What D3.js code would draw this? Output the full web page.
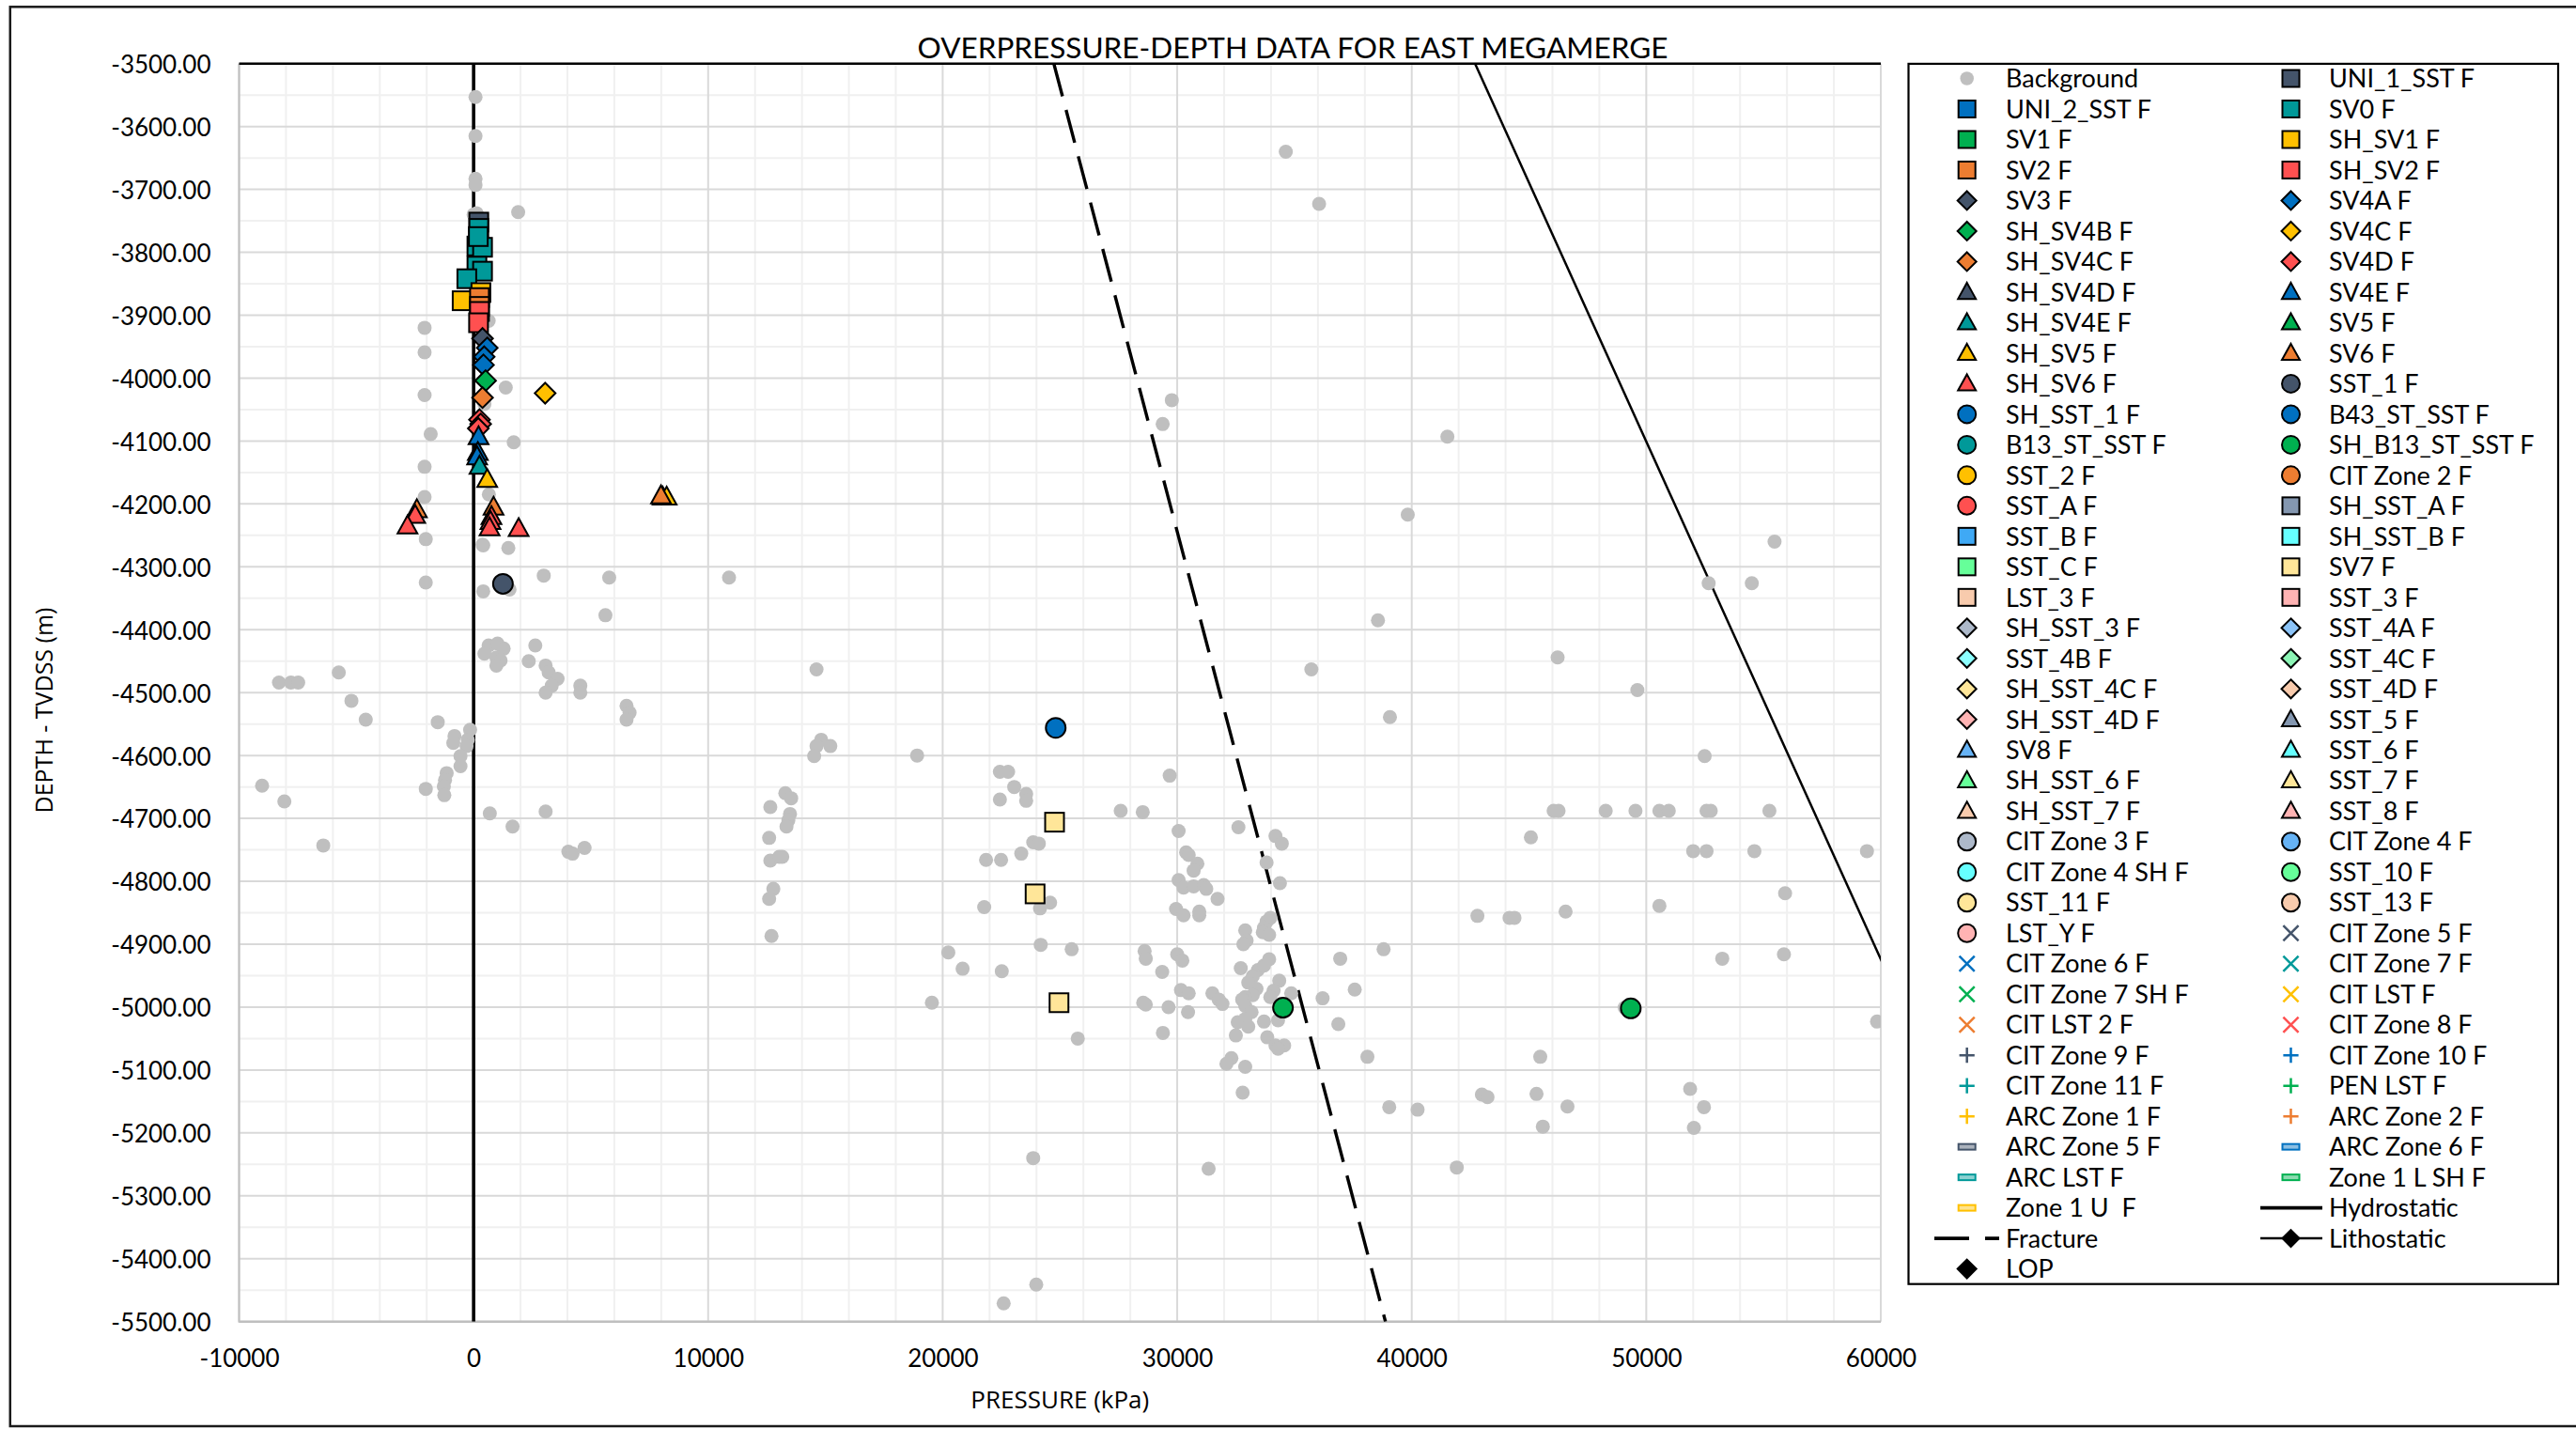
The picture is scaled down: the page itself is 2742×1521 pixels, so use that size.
<!DOCTYPE html>
<html>
<head>
<meta charset="utf-8">
<script src="https://cdn.jsdelivr.net/npm/d3@7"></script>
<style>
  html, body { margin: 0; padding: 0; background: #fff; }
  svg { display: block; }
  text { white-space: pre; }
</style>
</head>
<body>
<div id="chart"></div>
<script>
// ---------------- DATA ----------------
const chartTitle = "OVERPRESSURE-DEPTH DATA FOR EAST MEGAMERGE";
const xAxisTitle = "PRESSURE (kPa)";
const yAxisTitle = "DEPTH - TVDSS (m)";
const xTickValues = [-10000, 0, 10000, 20000, 30000, 40000, 50000, 60000];
const yTickValues = [-3500, -3600, -3700, -3800, -3900, -4000, -4100, -4200, -4300, -4400, -4500,
                     -4600, -4700, -4800, -4900, -5000, -5100, -5200, -5300, -5400, -5500];

// Background points [pressure kPa, depth m]
const background = [
  [80,-3553],[80,-3615],[80,-3683],[80,-3693],[130,-3738],[0,-3740],[1900,-3736],
  [-2090,-3920],[-2090,-3959],[-2090,-4027],[-1830,-4089],[1710,-4102],[1370,-4015],[460,-4041],[640,-3909],
  [650,-4185],[380,-4265],[-2090,-4141],[-2090,-4189],[-2040,-4256],[410,-4266],[1480,-4270],[-2040,-4325],
  [410,-4339],[1530,-4336],[2990,-4314],[5780,-4317],[10890,-4317],[5620,-4377],
  [640,-4425],[1020,-4422],[1280,-4430],[460,-4438],[970,-4444],[1150,-4449],[970,-4457],
  [2630,-4425],[2350,-4450],[3070,-4457],[3200,-4468],[3580,-4478],[3330,-4489],[3070,-4500],
  [4550,-4489],[4550,-4500],[6520,-4521],[6650,-4532],[6520,-4543],[14620,-4463],[-5750,-4468],
  [-8300,-4484],[-7790,-4484],[-7480,-4484],[-5210,-4513],[-4600,-4543],[-1530,-4547],[-815,-4569],[-866,-4580],
  [-150,-4559],[-250,-4575],[-300,-4585],[14820,-4575],[14620,-4585],[14520,-4601],[15210,-4585],[18910,-4600],
  [-560,-4601],[-560,-4617],[-1150,-4628],[-1220,-4639],[-1270,-4649],[-1250,-4663],[-2040,-4653],[-9020,-4648],
  [-8070,-4673],[13290,-4660],[13540,-4668],[12650,-4682],[13490,-4693],[13420,-4703],[13340,-4713],[690,-4692],
  [3070,-4689],[1660,-4713],[12600,-4731],[-6410,-4743],[4040,-4753],[4220,-4756],[4730,-4747],[12650,-4767],
  [13030,-4761],[13160,-4761],[12780,-4812],[12600,-4828],[12700,-4887],
  [34630,-3640],[36050,-3723],[29770,-4035],[29380,-4073],[41520,-4093],[39830,-4217],[55470,-4260],
  [52660,-4326],[54500,-4326],[38560,-4385],[46220,-4444],[35720,-4463],
  [49620,-4496],[39070,-4539],[52490,-4601],
  [22440,-4626],[22790,-4626],[23050,-4650],[23560,-4661],[23560,-4672],[22440,-4670],[29680,-4632],
  [27590,-4688],[28530,-4690],[46050,-4688],[46260,-4688],[48270,-4688],[49540,-4688],[50560,-4688],[50960,-4688],
  [52570,-4688],[52750,-4688],[55250,-4688],
  [30060,-4720],[32610,-4714],[34190,-4728],[34460,-4740],[45080,-4730],[23860,-4738],[24100,-4740],
  [21850,-4766],[22490,-4766],[23350,-4756],[30380,-4754],[30490,-4758],[30860,-4772],[30700,-4783],[33810,-4770],
  [52000,-4752],[52570,-4752],[54610,-4752],[59410,-4752],
  [34380,-4803],[30060,-4798],[30270,-4810],[30700,-4808],[31130,-4806],[31240,-4812],[31720,-4828],
  [24150,-4843],[24580,-4834],[21770,-4841],[29950,-4844],[30270,-4854],[30940,-4854],[30940,-4848],
  [55920,-4819],[50560,-4839],[42800,-4855],[44170,-4858],[44380,-4858],[46560,-4848],
  [33810,-4864],[33970,-4858],[33700,-4874],[33650,-4881],[33920,-4885],
  [32900,-4878],[32960,-4894],[32820,-4900],
  [24180,-4901],[25500,-4908],[28610,-4911],[28660,-4923],[30000,-4916],[30220,-4926],[20240,-4913],[20850,-4939],[22520,-4943],
  [38800,-4908],[36950,-4923],[53240,-4923],[55870,-4916],
  [32710,-4938],[33440,-4941],[33220,-4951],[33700,-4934],[33920,-4924],[29360,-4944],
  [33030,-4961],[33380,-4971],[33220,-4981],[32900,-4984],[34350,-4958],[34110,-4974],[33970,-4984],[37570,-4972],
  [19540,-4993],[28550,-4993],[28660,-4996],[29630,-5000],[30160,-4973],[30490,-4978],[31500,-4978],[31770,-4988],
  [31930,-4995],[32770,-4988],[32900,-4998],[33170,-5008],[30460,-5008],[36200,-4986],[34860,-4978],[49080,-5001],[59840,-5023],
  [32580,-5024],[32900,-5019],[33030,-5031],[33700,-5023],[34300,-5021],[36870,-5027],[29390,-5041],[32500,-5045],
  [33840,-5048],[34190,-5061],[34560,-5061],[34300,-5066],[25760,-5050],[38110,-5079],[45480,-5079],[32310,-5081],
  [32100,-5090],[32900,-5095],[32790,-5136],[39040,-5159],[40250,-5163],[42990,-5139],[43230,-5143],[45320,-5138],
  [46640,-5158],[51870,-5130],[52460,-5159],[45590,-5190],[52030,-5192],[23860,-5240],[31340,-5257],[41920,-5255],
  [23990,-5441],[22600,-5471]
];

const uni1SstF = [[220,-3752]];
const sv0F = [[220,-3762],[140,-3790],[380,-3792],[200,-3775],[140,-3822],[380,-3830],[-290,-3842]];
const shSv1F = [[-490,-3877],[310,-3864]];
const sv2F = [[250,-3872],[250,-3886]];
const shSv2F = [[250,-3894],[210,-3912]];
const sv3F = [[380,-3937]];
const sv4aF = [[580,-3952],[450,-3966],[420,-3979]];
const shSv4bF = [[510,-4004]];
const sv4cF = [[3050,-4024]];
const shSv4cF = [[380,-4031]];
const sv4dF = [[250,-4066],[300,-4073],[200,-4080]];
const sv4eF = [[210,-4093],[180,-4118],[150,-4125]];
const shSv4eF = [[250,-4140]];
const shSv5F = [[580,-4161],[8060,-4189],[8230,-4189]];
const sv6F = [[-2420,-4209],[850,-4205],[7990,-4187]];
const shSv6F = [[-2490,-4218],[-2820,-4235],[760,-4220],[720,-4228],[680,-4238],[1920,-4239]];
const sst1F = [[1250,-4327]];
const shSst1F = [[24820,-4556]];
const shB13StSstF = [[34510,-5001],[49340,-5002]];
const sv7F = [[24770,-4706],[23940,-4820],[24960,-4993]];

const hydrostatic = [[0,-3500],[0,-5500]];
const fracture = [[24740,-3500],[38880,-5500]];
const lithostatic = [[42700,-3500],[67000,-5500]];

// Series (legend order, Excel row-major 2 columns)
const seriesNames = [
  "Background","UNI_1_SST F","UNI_2_SST F","SV0 F","SV1 F","SH_SV1 F","SV2 F","SH_SV2 F","SV3 F","SV4A F",
  "SH_SV4B F","SV4C F","SH_SV4C F","SV4D F","SH_SV4D F","SV4E F","SH_SV4E F","SV5 F","SH_SV5 F","SV6 F",
  "SH_SV6 F","SST_1 F","SH_SST_1 F","B43_ST_SST F","B13_ST_SST F","SH_B13_ST_SST F","SST_2 F","CIT Zone 2 F",
  "SST_A F","SH_SST_A F","SST_B F","SH_SST_B F","SST_C F","SV7 F","LST_3 F","SST_3 F","SH_SST_3 F","SST_4A F",
  "SST_4B F","SST_4C F","SH_SST_4C F","SST_4D F","SH_SST_4D F","SST_5 F","SV8 F","SST_6 F","SH_SST_6 F","SST_7 F",
  "SH_SST_7 F","SST_8 F","CIT Zone 3 F","CIT Zone 4 F","CIT Zone 4 SH F","SST_10 F","SST_11 F","SST_13 F",
  "LST_Y F","CIT Zone 5 F","CIT Zone 6 F","CIT Zone 7 F","CIT Zone 7 SH F","CIT LST F","CIT LST 2 F","CIT Zone 8 F",
  "CIT Zone 9 F","CIT Zone 10 F","CIT Zone 11 F","PEN LST F","ARC Zone 1 F","ARC Zone 2 F","ARC Zone 5 F",
  "ARC Zone 6 F","ARC LST F","Zone 1 L SH F","Zone 1 U  F","Hydrostatic","Fracture","Lithostatic","LOP"
];
const seriesValues = {
  "Background": background, "UNI_1_SST F": uni1SstF, "SV0 F": sv0F, "SH_SV1 F": shSv1F, "SV2 F": sv2F,
  "SH_SV2 F": shSv2F, "SV3 F": sv3F, "SV4A F": sv4aF, "SH_SV4B F": shSv4bF, "SV4C F": sv4cF, "SH_SV4C F": shSv4cF,
  "SV4D F": sv4dF, "SV4E F": sv4eF, "SH_SV4E F": shSv4eF, "SH_SV5 F": shSv5F, "SV6 F": sv6F, "SH_SV6 F": shSv6F,
  "SST_1 F": sst1F, "SH_SST_1 F": shSst1F, "SH_B13_ST_SST F": shB13StSstF, "SV7 F": sv7F,
  "Hydrostatic": hydrostatic, "Fracture": fracture, "Lithostatic": lithostatic
};

// ---------------- STYLE ----------------
const C = { slate:"#44546A", blue:"#0070C0", teal:"#009999", green:"#00B050", gold:"#FFC000", orange:"#ED7D31", red:"#FF5050",
  slate2:"#8497B0", blue2:"#3FA9F5", cyan:"#66FFFF", mint:"#66FF99", cream:"#FFE699", peach:"#F8CBAD", pink:"#FFB3B3",
  slate3:"#ADB9CA", blue3:"#8CC4F8", cyan3:"#8CFFFF", mint3:"#8CF5B5", blue4:"#66B3F5" };
const seriesStyle = {
  "Background":["bg","#BFBFBF"],"UNI_1_SST F":["square",C.slate],"UNI_2_SST F":["square",C.blue],"SV0 F":["square",C.teal],
  "SV1 F":["square",C.green],"SH_SV1 F":["square",C.gold],"SV2 F":["square",C.orange],"SH_SV2 F":["square",C.red],
  "SV3 F":["diamond",C.slate],"SV4A F":["diamond",C.blue],"SH_SV4B F":["diamond",C.green],"SV4C F":["diamond",C.gold],
  "SH_SV4C F":["diamond",C.orange],"SV4D F":["diamond",C.red],"SH_SV4D F":["triangle",C.slate],"SV4E F":["triangle",C.blue],
  "SH_SV4E F":["triangle",C.teal],"SV5 F":["triangle",C.green],"SH_SV5 F":["triangle",C.gold],"SV6 F":["triangle",C.orange],
  "SH_SV6 F":["triangle",C.red],"SST_1 F":["circle",C.slate],"SH_SST_1 F":["circle",C.blue],"B43_ST_SST F":["circle",C.blue],
  "B13_ST_SST F":["circle",C.teal],"SH_B13_ST_SST F":["circle",C.green],"SST_2 F":["circle",C.gold],"CIT Zone 2 F":["circle",C.orange],
  "SST_A F":["circle",C.red],"SH_SST_A F":["square",C.slate2],"SST_B F":["square",C.blue2],"SH_SST_B F":["square",C.cyan],
  "SST_C F":["square",C.mint],"SV7 F":["square",C.cream],"LST_3 F":["square",C.peach],"SST_3 F":["square",C.pink],
  "SH_SST_3 F":["diamond",C.slate3],"SST_4A F":["diamond",C.blue3],"SST_4B F":["diamond",C.cyan3],"SST_4C F":["diamond",C.mint3],
  "SH_SST_4C F":["diamond",C.cream],"SST_4D F":["diamond",C.peach],"SH_SST_4D F":["diamond",C.pink],"SST_5 F":["triangle",C.slate2],
  "SV8 F":["triangle",C.blue4],"SST_6 F":["triangle",C.cyan],"SH_SST_6 F":["triangle",C.mint],"SST_7 F":["triangle",C.cream],
  "SH_SST_7 F":["triangle",C.peach],"SST_8 F":["triangle",C.pink],"CIT Zone 3 F":["circle",C.slate3],"CIT Zone 4 F":["circle",C.blue4],
  "CIT Zone 4 SH F":["circle",C.cyan],"SST_10 F":["circle",C.mint],"SST_11 F":["circle",C.cream],"SST_13 F":["circle",C.peach],
  "LST_Y F":["circle",C.pink],"CIT Zone 5 F":["x",C.slate],"CIT Zone 6 F":["x",C.blue],"CIT Zone 7 F":["x",C.teal],
  "CIT Zone 7 SH F":["x",C.green],"CIT LST F":["x",C.gold],"CIT LST 2 F":["x",C.orange],"CIT Zone 8 F":["x",C.red],
  "CIT Zone 9 F":["plus",C.slate],"CIT Zone 10 F":["plus",C.blue],"CIT Zone 11 F":["plus",C.teal],"PEN LST F":["plus",C.green],
  "ARC Zone 1 F":["plus",C.gold],"ARC Zone 2 F":["plus",C.orange],"ARC Zone 5 F":["dash",C.slate],"ARC Zone 6 F":["dash",C.blue],
  "ARC LST F":["dash",C.teal],"Zone 1 L SH F":["dash",C.green],"Zone 1 U  F":["dash",C.gold],
  "Hydrostatic":["lineSolid","#000"],"Fracture":["lineDash","#000"],"Lithostatic":["lineDiamond","#000"],"LOP":["diamond","#000"]
};

// ---------------- LAYOUT ----------------
const W = 2742, H = 1521;
const plot = { left: 254.5, right: 2002, top: 67.7, bottom: 1406.7 };
const FONT = "Lato, 'Open Sans', sans-serif";
const TITLE_FONT = "'Open Sans', Lato, sans-serif";

const svg = d3.select("#chart").append("svg")
  .attr("width", W).attr("height", H)
  .style("font-family", FONT);
svg.append("rect").attr("width", W).attr("height", H).attr("fill", "#fff");

// outer chart border (right edge lies beyond the picture)
svg.append("rect").attr("x", 10.8).attr("y", 7.3).attr("width", W + 20).attr("height", 1518 - 7.3)
  .attr("fill", "none").attr("stroke", "#1a1a1a").attr("stroke-width", 2.5);

const x = d3.scaleLinear().domain([-10000, 60000]).range([plot.left, plot.right]);
const y = d3.scaleLinear().domain([-3500, -5500]).range([plot.top, plot.bottom]);

// grid
const grid = svg.append("g");
const minorX = d3.range(-10000, 60001, 2000).filter(v => v % 10000 !== 0);
const minorY = d3.range(-3550, -5500, -100);
grid.selectAll(".mx").data(minorX).join("line")
  .attr("x1", d => x(d)).attr("x2", d => x(d)).attr("y1", plot.top).attr("y2", plot.bottom)
  .attr("stroke", "#F0F0F0").attr("stroke-width", 2);
grid.selectAll(".my").data(minorY).join("line")
  .attr("x1", plot.left).attr("x2", plot.right).attr("y1", d => y(d)).attr("y2", d => y(d))
  .attr("stroke", "#F0F0F0").attr("stroke-width", 2);
grid.selectAll(".Mx").data(xTickValues).join("line")
  .attr("x1", d => x(d)).attr("x2", d => x(d)).attr("y1", plot.top).attr("y2", plot.bottom)
  .attr("stroke", "#D9D9D9").attr("stroke-width", 2);
grid.selectAll(".My").data(yTickValues).join("line")
  .attr("x1", plot.left).attr("x2", plot.right).attr("y1", d => y(d)).attr("y2", d => y(d))
  .attr("stroke", "#D9D9D9").attr("stroke-width", 2);

// axis lines
svg.append("line").attr("x1", plot.left).attr("x2", plot.left).attr("y1", plot.top).attr("y2", plot.bottom + 1)
  .attr("stroke", "#BFBFBF").attr("stroke-width", 2);
svg.append("line").attr("x1", plot.left).attr("x2", plot.right).attr("y1", plot.bottom).attr("y2", plot.bottom)
  .attr("stroke", "#BFBFBF").attr("stroke-width", 2.5);
svg.append("line").attr("x1", plot.left).attr("x2", plot.right).attr("y1", plot.top).attr("y2", plot.top)
  .attr("stroke", "#000").attr("stroke-width", 2.5);

// axes (labels)
const xAxis = svg.append("g").attr("transform", `translate(0,${plot.bottom})`)
  .call(d3.axisBottom(x).tickValues(xTickValues).tickSize(0).tickPadding(30).tickFormat(d3.format("d")));
const yAxis = svg.append("g").attr("transform", `translate(${plot.left},0)`)
  .call(d3.axisLeft(y).tickValues(yTickValues).tickSize(0).tickPadding(30).tickFormat(d => d3.format(".2f")(d).replace("−", "-")));
[xAxis, yAxis].forEach(a => {
  a.select(".domain").remove();
  a.selectAll("text").attr("font-family", FONT).attr("font-size", 26).attr("fill", "#000");
});
xAxis.selectAll("text").text(d => String(d));
yAxis.selectAll("text").attr("dy", "0.38em");

// titles
svg.append("text").attr("x", 1376).attr("y", 62).attr("text-anchor", "middle")
  .attr("font-size", 31.5).attr("font-family", FONT).attr("fill", "#000").text(chartTitle);
svg.append("text").attr("x", (plot.left + plot.right) / 2).attr("y", 1499).attr("text-anchor", "middle")
  .attr("font-size", 26).attr("font-family", TITLE_FONT).attr("fill", "#000").text(xAxisTitle);
svg.append("text").attr("transform", "translate(56,756) rotate(-90)").attr("text-anchor", "middle")
  .attr("font-size", 25).attr("font-family", TITLE_FONT).attr("fill", "#000").text(yAxisTitle);

// marker drawing
function drawMarker(g, shape, color, s) {
  const h = s / 2;
  if (shape === "bg") {
    g.append("circle").attr("r", s / 2).attr("fill", color);
  } else if (shape === "square") {
    g.append("rect").attr("x", -h).attr("y", -h).attr("width", s).attr("height", s)
      .attr("fill", color).attr("stroke", "#000").attr("stroke-width", 2);
  } else if (shape === "circle") {
    g.append("circle").attr("r", h + 0.5).attr("fill", color).attr("stroke", "#000").attr("stroke-width", 2);
  } else if (shape === "diamond") {
    g.append("path").attr("d", `M0,${-h - 1}L${h + 1},0L0,${h + 1}L${-h - 1},0Z`)
      .attr("fill", color).attr("stroke", "#000").attr("stroke-width", 2);
  } else if (shape === "triangle") {
    g.append("path").attr("d", `M0,${-h - 1}L${h + 0.5},${h * 0.8}L${-h - 0.5},${h * 0.8}Z`)
      .attr("fill", color).attr("stroke", "#000").attr("stroke-width", 2).attr("stroke-linejoin", "miter");
  } else if (shape === "x") {
    const k = h * 0.9;
    g.append("path").attr("d", `M${-k},${-k}L${k},${k}M${-k},${k}L${k},${-k}`)
      .attr("stroke", color).attr("stroke-width", 2.5).attr("fill", "none");
  } else if (shape === "plus") {
    const k = h * 0.9;
    g.append("path").attr("d", `M${-k},0L${k},0M0,${-k}L0,${k}`)
      .attr("stroke", color).attr("stroke-width", 2.5).attr("fill", "none");
  } else if (shape === "dash") {
    g.append("rect").attr("x", -h).attr("y", -3).attr("width", s).attr("height", 6)
      .attr("fill", d3.interpolateRgb(color, "#fff")(0.55)).attr("stroke", color).attr("stroke-width", 2);
  }
}

// clip for plot
svg.append("defs").append("clipPath").attr("id", "plotClip")
  .append("rect").attr("x", plot.left).attr("y", plot.top).attr("width", plot.right - plot.left).attr("height", plot.bottom - plot.top);

const plotG = svg.append("g").attr("clip-path", "url(#plotClip)");
const line = d3.line().x(d => x(d[0])).y(d => y(d[1]));

// reference lines (under the points)
plotG.append("path").datum(seriesValues["Lithostatic"]).attr("d", line)
  .attr("fill", "none").attr("stroke", "#000").attr("stroke-width", 2.5);
plotG.append("path").datum(seriesValues["Fracture"]).attr("d", line)
  .attr("fill", "none").attr("stroke", "#000").attr("stroke-width", 3.4).attr("stroke-dasharray", "36,15");
plotG.append("path").datum(seriesValues["Hydrostatic"]).attr("d", line)
  .attr("fill", "none").attr("stroke", "#000").attr("stroke-width", 3.6);

// point series
seriesNames.forEach(name => {
  const st = seriesStyle[name];
  const vals = seriesValues[name];
  if (!vals || st[0].startsWith("line")) return;
  const size = st[0] === "bg" ? 15 : 20;
  plotG.append("g").selectAll("g").data(vals).join("g")
    .attr("transform", d => `translate(${x(d[0])},${y(d[1])})`)
    .each(function () { drawMarker(d3.select(this), st[0], st[1], size); });
});

// ---------------- LEGEND ----------------
const legend = { left: 2031.5, top: 67.9, right: 2723, bottom: 1366.7, row0: 83.5, rowStep: 32.49 };
svg.append("rect").attr("x", legend.left).attr("y", legend.top)
  .attr("width", legend.right - legend.left).attr("height", legend.bottom - legend.top)
  .attr("fill", "#fff").attr("stroke", "#000").attr("stroke-width", 2.2);
const cols = [{ mx: 2093.7, tx: 2135, lx0: 2059, lx1: 2128 }, { mx: 2438.5, tx: 2479, lx0: 2406, lx1: 2472 }];
seriesNames.forEach((name, i) => {
  const col = cols[i % 2];
  const cy = legend.row0 + Math.floor(i / 2) * legend.rowStep;
  const st = seriesStyle[name];
  const g = svg.append("g");
  if (st[0] === "lineSolid") {
    g.append("line").attr("x1", col.lx0).attr("x2", col.lx1).attr("y1", cy).attr("y2", cy)
      .attr("stroke", "#000").attr("stroke-width", 3.8);
  } else if (st[0] === "lineDash") {
    g.append("line").attr("x1", col.lx0).attr("x2", col.lx1).attr("y1", cy).attr("y2", cy)
      .attr("stroke", "#000").attr("stroke-width", 3.8).attr("stroke-dasharray", "37,17");
  } else if (st[0] === "lineDiamond") {
    g.append("line").attr("x1", col.lx0).attr("x2", col.lx1).attr("y1", cy).attr("y2", cy)
      .attr("stroke", "#000").attr("stroke-width", 2.5);
    drawMarker(g.append("g").attr("transform", `translate(${col.mx},${cy})`), "diamond", "#000", 16);
  } else {
    const s = st[0] === "bg" ? 14.5 : 18;
    drawMarker(g.append("g").attr("transform", `translate(${col.mx},${cy})`), st[0], st[1], s);
  }
  g.append("text").attr("x", col.tx).attr("y", cy).attr("dy", "0.36em")
    .attr("font-size", 27).attr("fill", "#000").text(name);
});
</script>
</body>
</html>
